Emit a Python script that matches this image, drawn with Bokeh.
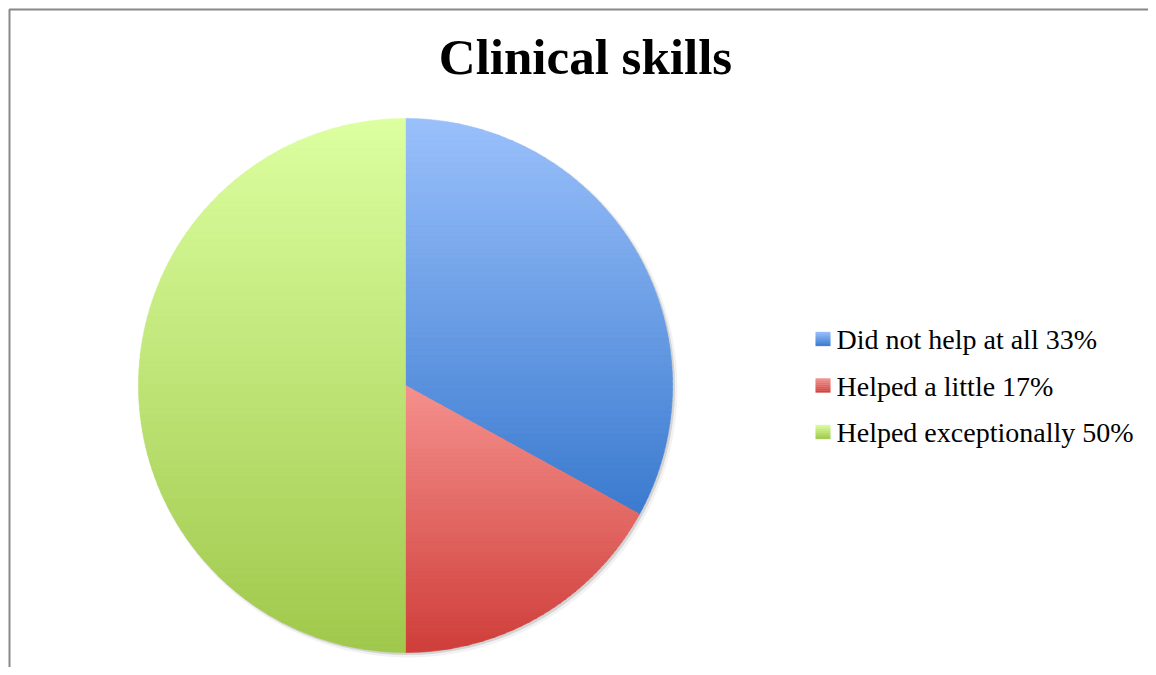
import numpy as np
from bokeh.plotting import figure
from bokeh.models import ColumnDataSource
from bokeh.core.properties import value
from bokeh.embed import file_html
from bokeh.resources import INLINE

# ---- data ----
title = "Clinical skills"
categories = ["Did not help at all", "Helped a little", "Helped exceptionally"]
percents = [33, 17, 50]
top_colors = ["#9ac0fb", "#f5918d", "#dcffa0"]
bottom_colors = ["#3b7bcf", "#cf3e3a", "#a0c84c"]

W, H = 1148, 667
p = figure(width=W, height=H, x_range=(0, W), y_range=(0, H),
           x_axis_type=None, y_axis_type=None, toolbar_location=None,
           output_backend="svg", min_border=0)
p.grid.visible = False
p.outline_line_color = None
p.background_fill_color = "white"
p.border_fill_color = "white"

# chart-area frame (left and top; right/bottom lie outside the view)
p.line(x=[9, 9, W + 10], y=[-10, 658, 658], line_color="#888888", line_width=2)

cx, cy, r = 405, 282, 267

# soft shadow
p.circle(x=[cx + 3], y=[cy - 3], radius=r + 2, fill_color="black", fill_alpha=0.05, line_color=None)
p.circle(x=[cx + 2], y=[cy - 2], radius=r + 0.5, fill_color="black", fill_alpha=0.12, line_color=None)


def hex2rgb(h):
    h = h.lstrip("#")
    return np.array([int(h[i:i + 2], 16) for i in (0, 2, 4)], dtype=float)


def rgb2hex(c):
    c = np.clip(np.round(c), 0, 255).astype(int)
    return "#%02x%02x%02x" % tuple(c)


def clip_half(poly, yv, keep_above):
    out = []
    n = len(poly)
    for i in range(n):
        a = poly[i]
        b = poly[(i + 1) % n]
        ina = a[1] >= yv if keep_above else a[1] <= yv
        inb = b[1] >= yv if keep_above else b[1] <= yv
        if ina:
            out.append(a)
        if ina != inb:
            t = (yv - a[1]) / (b[1] - a[1])
            out.append((a[0] + t * (b[0] - a[0]), yv))
    return out


fracs = np.array(percents, dtype=float) / sum(percents)
ends = np.pi / 2 - 2 * np.pi * np.cumsum(fracs)
starts = np.concatenate([[np.pi / 2], ends[:-1]])

xs_all, ys_all, cols_all = [], [], []
nb = 70
for i in range(len(categories)):
    a0, a1 = starts[i], ends[i]
    npts = max(8, int(abs(a1 - a0) / (2 * np.pi) * 400))
    ang = np.linspace(a0, a1, npts)
    poly = [(cx, cy)] + [(cx + r * np.cos(a), cy + r * np.sin(a)) for a in ang]
    ys = [q[1] for q in poly]
    ymin, ymax = min(ys), max(ys)
    ct, cb = hex2rgb(top_colors[i]), hex2rgb(bottom_colors[i])
    edges = np.linspace(ymax, ymin, nb + 1)
    for k in range(nb):
        y_hi, y_lo = edges[k], edges[k + 1]
        band = clip_half(poly, y_lo - 0.3, True)
        band = clip_half(band, y_hi + 0.3, False)
        if len(band) < 3:
            continue
        t = (k + 0.5) / nb
        col = rgb2hex(ct + (cb - ct) * t)
        xs_all.append([q[0] for q in band])
        ys_all.append([q[1] for q in band])
        cols_all.append(col)

p.patches(xs="xs", ys="ys", fill_color="c", line_color="c", line_width=0.6,
          source=ColumnDataSource(dict(xs=xs_all, ys=ys_all, c=cols_all)))

# title
p.text(x=[585], y=[611], text=[title], text_font=value("Liberation Serif"),
       text_font_style="bold", text_font_size="51px", text_align="center",
       text_baseline="alphabetic", text_color="black")

# legend
labels = [f"{c} {v}%" for c, v in zip(categories, percents)]
row_y = [328 - 46.5 * i for i in range(len(labels))]
sq_x, sq_w, sq_h = 822.5, 15, 14
qx, qy, qc = [], [], []
nsq = 7
for i in range(len(labels)):
    ct, cb = hex2rgb(top_colors[i]), hex2rgb(bottom_colors[i])
    yc = row_y[i] + 0.5
    for k in range(nsq):
        t = (k + 0.5) / nsq
        qx.append(sq_x)
        qy.append(yc + sq_h / 2 - sq_h * t)
        qc.append(rgb2hex(ct + (cb - ct) * t))
p.rect(x=qx, y=qy, width=sq_w, height=sq_h / nsq + 0.3, fill_color=qc, line_color=None)
leg_src = ColumnDataSource(dict(ty=row_y, tx=[836] * len(labels), lab=labels))
p.text(x="tx", y="ty", text="lab", text_font=value("Liberation Serif"),
       text_font_size="28px", text_baseline="alphabetic", text_color="black",
       source=leg_src)

open("out.html", "w").write(file_html(p, INLINE))
